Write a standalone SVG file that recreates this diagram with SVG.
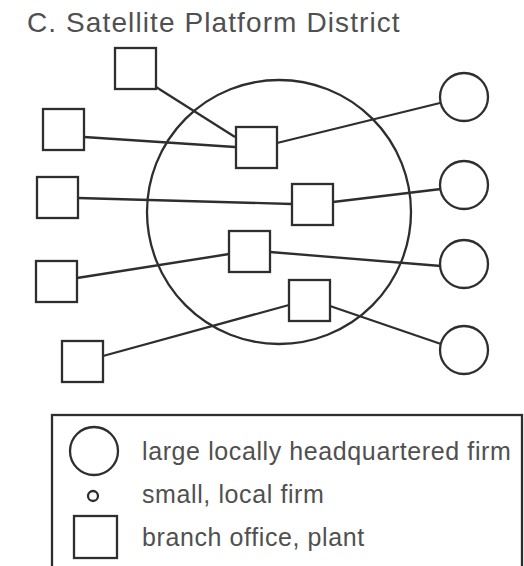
<svg xmlns="http://www.w3.org/2000/svg" width="524" height="566" viewBox="0 0 524 566">
<style>
.s{fill:#fff;stroke:#2e2e2e;stroke-width:2.3}
.c{fill:none;stroke:#2e2e2e;stroke-width:2.3}
.e{stroke:#2e2e2e;stroke-width:2.3;fill:none}
.t{font-family:"Liberation Sans",Arial,sans-serif;fill:#505050}
.title{font-size:28px;letter-spacing:1.1px}
.lg{font-size:25px;letter-spacing:0.6px}
</style>
<rect width="524" height="566" fill="#fff"/>
<text class="t title" x="27" y="32">C. Satellite Platform District</text>
<g id="district"><circle class="c" cx="279" cy="212" r="132"/></g>
<g id="connectors">
<line class="e" x1="156" y1="87" x2="235" y2="137"/>
<line class="e" x1="84" y1="137" x2="235" y2="147"/>
<line class="e" x1="277" y1="143" x2="440" y2="103"/>
<line class="e" x1="78" y1="198" x2="292" y2="204"/>
<line class="e" x1="333" y1="202" x2="441" y2="189"/>
<line class="e" x1="77" y1="278" x2="229" y2="254"/>
<line class="e" x1="270" y1="252" x2="441" y2="266"/>
<line class="e" x1="103" y1="356" x2="289" y2="305"/>
<line class="e" x1="330" y1="306" x2="441" y2="344"/>
</g>
<g id="b_top"><rect class="s" x="115" y="48" width="41" height="41"/></g>
<g id="b_l1"><rect class="s" x="43" y="109" width="41" height="41"/></g>
<g id="b_c1"><rect class="s" x="236" y="127" width="41" height="41"/></g>
<g id="b_l2"><rect class="s" x="37" y="177" width="41" height="41"/></g>
<g id="b_c2"><rect class="s" x="292" y="184" width="41" height="41"/></g>
<g id="b_c3"><rect class="s" x="229" y="231" width="41" height="41"/></g>
<g id="b_l3"><rect class="s" x="36" y="261" width="41" height="41"/></g>
<g id="b_c4"><rect class="s" x="289" y="280" width="41" height="41"/></g>
<g id="b_l4"><rect class="s" x="62" y="341" width="41" height="41"/></g>
<g id="f1"><circle class="s" cx="464" cy="97" r="24"/></g>
<g id="f2"><circle class="s" cx="464" cy="185" r="24"/></g>
<g id="f3"><circle class="s" cx="464" cy="264" r="24"/></g>
<g id="f4"><circle class="s" cx="464" cy="350" r="24"/></g>
<g id="legend">
<rect class="s" x="52" y="415" width="470" height="170"/>
<circle class="c" cx="94" cy="451" r="24"/>
<circle class="c" cx="93" cy="496" r="5"/>
<rect class="c" x="74" y="516" width="43" height="42"/>
<text class="t lg" x="142" y="460">large locally headquartered firm</text>
<text class="t lg" x="142" y="503">small, local firm</text>
<text class="t lg" x="142" y="546">branch office, plant</text>
</g>
</svg>
